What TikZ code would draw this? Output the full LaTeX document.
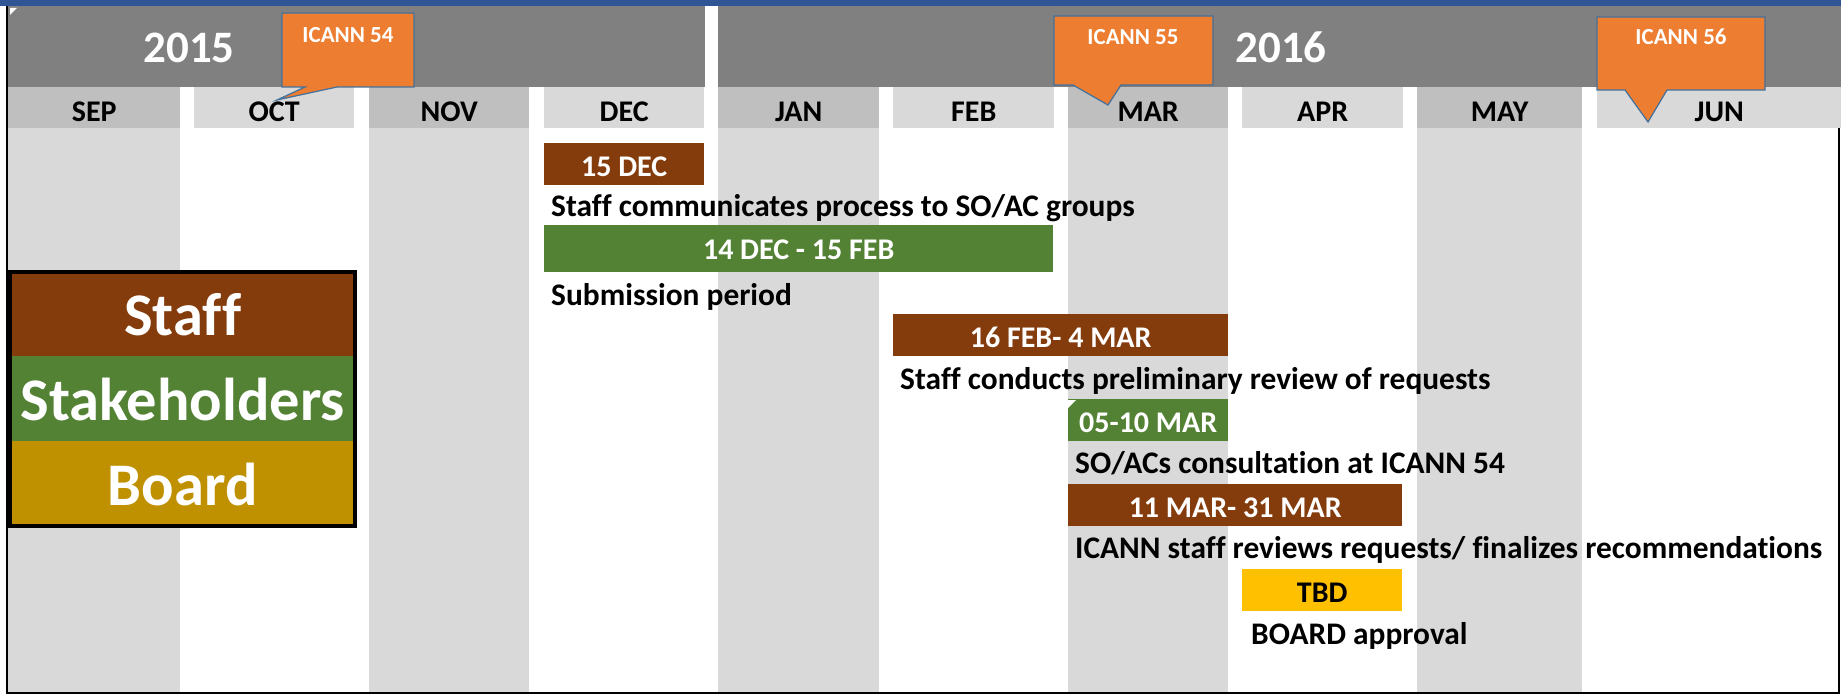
\documentclass[tikz,border=0pt]{standalone}
\usepackage{fontspec}
\setmainfont{Carlito}[Ligatures=NoCommon]
\definecolor{topblue}{HTML}{2F5597}
\definecolor{yeargray}{HTML}{808080}
\definecolor{cellA}{HTML}{BFBFBF}
\definecolor{cellB}{HTML}{D9D9D9}
\definecolor{staffbrown}{HTML}{843C0C}
\definecolor{stakegreen}{HTML}{548235}
\definecolor{boardgold}{HTML}{BF9000}
\definecolor{tbdgold}{HTML}{FFC000}
\definecolor{calloutorange}{HTML}{ED7D31}
\definecolor{calloutedge}{HTML}{41719C}
\tikzset{
  monthcell/.style={inner sep=0pt, anchor=north west, minimum height=41, text height=34, text depth=7,
    font=\fontsize{30}{30}\selectfont\bfseries, text=black},
  yearlabel/.style={inner sep=0pt, anchor=base, text=white, font=\fontsize{45}{45}\selectfont\bfseries},
  callout/.style={fill=calloutorange, draw=calloutedge, line width=1.2pt, line join=miter},
  callouttext/.style={inner sep=0pt, anchor=base, text=white, font=\fontsize{23}{23}\selectfont\bfseries},
  bar/.style={inner sep=0pt, anchor=north west, minimum height=42, text height=33, text depth=9,
    text=white, font=\fontsize{30}{30}\selectfont\bfseries},
  desc/.style={inner sep=0pt, anchor=base west, text=black, font=\fontsize{31.4}{31.4}\selectfont\bfseries},
  legendband/.style={inner sep=0pt, anchor=north west, minimum width=345, text height=64, text depth=21,
    text=white, font=\fontsize{60.5}{60.5}\selectfont\bfseries},
  flag/.style={fill=white}
}
\begin{document}
\begin{tikzpicture}[x=1pt,y=-1pt]
\useasboundingbox (0,0) rectangle (1841,695);
\fill[white] (0,0) rectangle (1841,695);
% body columns
\foreach \a/\b in {8/180, 369/529, 718/879, 1068/1228, 1417/1582}
  \fill[cellB] (\a,128) rectangle (\b,693);
% year bands
\fill[yeargray] (8,6) rectangle (705,87);
\fill[yeargray] (718,6) rectangle (1841,87);
% top blue bar
\fill[topblue] (0,0) rectangle (1841,6);
% frame
\draw[line width=2pt] (7,6) -- (7,693) -- (1839,693) -- (1839,128);
% error flags
\fill[flag] (10,8) -- (17,8) -- (10,15) -- cycle;
% years
\node[yearlabel] (y2015) at (189,63) {2015};
\node[yearlabel] (y2016) at (1281,63) {2016};
% month cells
\node[monthcell, fill=cellA, minimum width=172] (sep) at (8,87) {SEP};
\node[monthcell, fill=cellB, minimum width=160] (oct) at (194,87) {OCT};
\node[monthcell, fill=cellA, minimum width=160] (nov) at (369,87) {NOV};
\node[monthcell, fill=cellB, minimum width=160] (dec) at (544,87) {DEC};
\node[monthcell, fill=cellA, minimum width=161] (jan) at (718,87) {JAN};
\node[monthcell, fill=cellB, minimum width=161] (feb) at (893,87) {FEB};
\node[monthcell, fill=cellA, minimum width=160] (mar) at (1068,87) {MAR};
\node[monthcell, fill=cellB, minimum width=161] (apr) at (1242,87) {APR};
\node[monthcell, fill=cellA, minimum width=165] (may) at (1417,87) {MAY};
\node[monthcell, fill=cellB, minimum width=244] (jun) at (1597,87) {JUN};
% callouts
\filldraw[callout] (282,13) -- (414,13) -- (414,87) -- (337,87) -- (277,100) -- (305,87) -- (282,87) -- cycle;
\node[callouttext] (c54) at (348,43) {ICANN 54};
\filldraw[callout] (1054,16) -- (1213,16) -- (1213,85) -- (1121,85) -- (1108,105) -- (1073,85) -- (1054,85) -- cycle;
\node[callouttext] (c55) at (1133,45) {ICANN 55};
\filldraw[callout] (1597,17) -- (1765,17) -- (1765,90) -- (1667,90) -- (1648,122) -- (1625,90) -- (1597,90) -- cycle;
\node[callouttext] (c56) at (1681,45) {ICANN 56};
% bars and descriptions
\node[bar, fill=staffbrown, minimum width=160] (b1) at (544,143) {15 DEC};
\node[desc] (d1) at (551,217) {Staff communicates process to SO/AC groups};
\node[bar, fill=stakegreen, minimum width=509, minimum height=47, text height=34, text depth=13] (b2) at (544,225) {14 DEC - 15 FEB};
\node[desc] (d2) at (551,305) {Submission period};
\node[bar, fill=staffbrown, minimum width=335] (b3) at (893,314) {16 FEB- 4 MAR};
\node[desc] (d3) at (900,389) {Staff conducts preliminary review of requests};
\node[bar, fill=stakegreen, minimum width=160] (b4) at (1068,399) {05-10 MAR};
\fill[flag] (1068,400) -- (1076,400) -- (1068,408) -- cycle;
\node[desc] (d4) at (1075,473) {SO/ACs consultation at ICANN 54};
\node[bar, fill=staffbrown, minimum width=334] (b5) at (1068,484) {11 MAR- 31 MAR};
\node[desc] (d5) at (1075,558) {ICANN staff reviews requests/ finalizes recommendations};
\node[bar, fill=tbdgold, minimum width=160, text=black] (b6) at (1242,569) {TBD};
\node[desc] (d6) at (1251,644) {BOARD approval};
% legend
\node[legendband, fill=staffbrown, minimum height=84, text height=63] (lstaff) at (10,272) {Staff};
\node[legendband, fill=stakegreen, minimum height=85] (lstake) at (10,356) {Stakeholders};
\node[legendband, fill=boardgold, minimum height=85] (lboard) at (10,441) {Board};
\draw[line width=4pt] (lstaff.north west) rectangle (lboard.south east);
\end{tikzpicture}
\end{document}
